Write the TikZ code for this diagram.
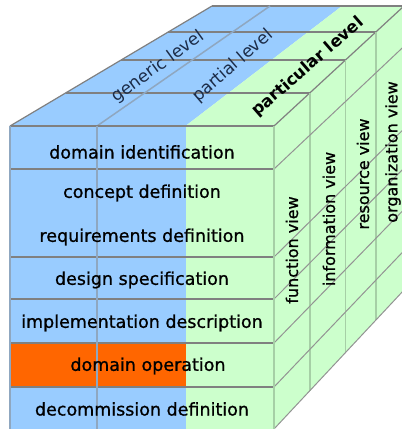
\documentclass[tikz,border=0pt]{standalone}
\usepackage{fontspec}
\setmainfont{DejaVu Sans}
\newfontfamily\phasefont{DejaVu Sans}[FakeBold=0.9]
\newfontfamily\levelfont{DejaVu Sans}
\usetikzlibrary{calc}
\definecolor{faceblue}{HTML}{99CCFF}
\definecolor{facegreen}{HTML}{CCFFCC}
\definecolor{opsorange}{HTML}{FF6600}
\definecolor{gridgray}{HTML}{808080}
\definecolor{edgeblue}{HTML}{8FA7C0}
\definecolor{edgegreen}{HTML}{A6CFA6}
\definecolor{levelink}{HTML}{1C2C48}
\begin{document}
\begin{tikzpicture}[x=1pt,y=-1pt,
  rowline/.style={draw=gridgray, line width=1.2pt},
  sideline/.style={draw=gridgray!85, line width=1pt},
  colline/.style={draw=edgeblue, line width=1.5pt},
  viewline/.style={draw=edgegreen, line width=1.8pt},
  rowlabel/.style={font=\phasefont\fontsize{17.5}{20}\selectfont, text=black, inner sep=0pt},
  viewlabel/.style={font=\phasefont\fontsize{16}{18}\selectfont, text=black, rotate=90, inner sep=0pt},
  levellabel/.style={font=\levelfont\fontsize{17}{19}\selectfont, text=levelink, inner sep=0pt},
  boldlevel/.style={font=\levelfont\fontsize{16.5}{19}\bfseries\selectfont, text=black, inner sep=0pt}]
\useasboundingbox (0,0) rectangle (402,429);
\clip (0,0) rectangle (402,429);

% cube corners
\coordinate (FL) at (10,126);
\coordinate (FR) at (274,126);
\coordinate (BL) at (212,6);
\coordinate (BR) at (404,6);
\coordinate (FLb) at (10,429);
\coordinate (FRb) at (274,429);
\coordinate (BRb) at (404,290);
% level boundaries on front and top
\coordinate (G1) at (97,126);
\coordinate (G1b) at (270,6);
\coordinate (P1) at (185.5,126);
\coordinate (P1b) at (342,6);

% top face
\fill[faceblue] (FL) -- (P1) -- (P1b) -- (BL) -- cycle;
\fill[facegreen] (P1) -- (FR) -- (BR) -- (P1b) -- cycle;
% side face
\fill[facegreen] (FR) -- (BR) -- (BRb) -- (FRb) -- cycle;
% front face
\fill[faceblue] (FL) rectangle (185.5,429);
\fill[opsorange] (10,343) rectangle (185.5,387);
\fill[facegreen] (P1) rectangle (FRb);

% top face depth slices
\foreach \t in {0.275,0.55,0.783}
  \draw[rowline] ($(FL)!\t!(BL)$) -- ($(FR)!\t!(BR)$);
\draw[rowline] (BL) -- (BR);
\draw[rowline] (FL) -- (BL);
\draw[colline] (G1) -- (G1b);
\draw[rowline] (FR) -- (BR);

% side face view columns and life-cycle rows
\foreach \t in {0.275,0.55,0.783}
  \draw[viewline] ($(FR)!\t!(BR)$) -- ($(FRb)!\t!(BRb)$);
\foreach \s in {0.1419,0.4323,0.571,0.7162,0.8614}
  \draw[sideline] ($(FR)!\s!(FRb)$) -- ($(BR)!\s!(BRb)$);
\draw[sideline] (FRb) -- (BRb);

% front face grid
\foreach \y in {126,169,257,299,343,387}
  \draw[rowline] (10,\y) -- (274,\y);
\draw[colline, line width=2pt] (FL) -- (FLb);
\draw[colline] (G1) -- (97,429);
\draw[viewline, line width=2pt] (FR) -- (FRb);

% life-cycle phases
\node[rowlabel] (dom) at (142,152) {domain identification};
\node[rowlabel] (con) at (142,193) {concept definition};
\node[rowlabel] (req) at (142,237) {requirements definition};
\node[rowlabel] (des) at (142,280) {design specification};
\node[rowlabel] (imp) at (142,323) {implementation description};
\node[rowlabel] (ope) at (148,366) {domain operation};
\node[rowlabel] (dec) at (142,409) {decommission definition};

% genericity levels
\node[levellabel, rotate=36] (gen) at (158,67) {generic level};
\node[levellabel, rotate=41] (par) at (233,66) {partial level};
\node[boldlevel, rotate=41] (prt) at (308,67) {particular level};

% views
\node[viewlabel] (fun) at (292,250) {function view};
\node[viewlabel] (inf) at (329,219) {information view};
\node[viewlabel] (res) at (363,174) {resource view};
\node[viewlabel] (org) at (393,152) {organization view};
\end{tikzpicture}
\end{document}
